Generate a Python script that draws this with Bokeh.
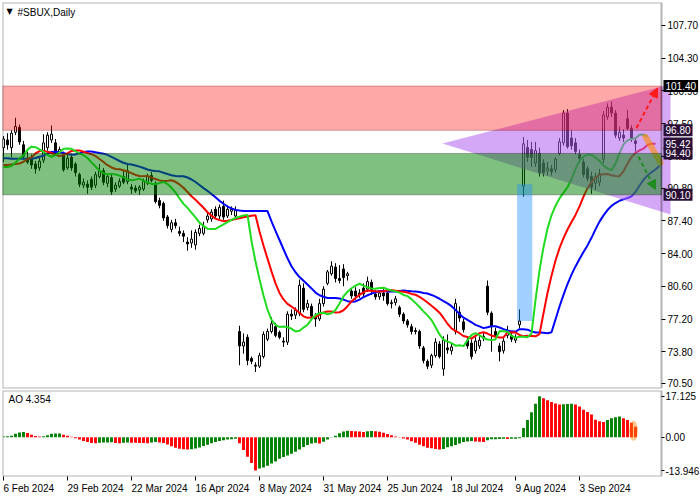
from bokeh.plotting import figure
from bokeh.layouts import column
from bokeh.models import (Range1d, FixedTicker, NumeralTickFormatter, BoxAnnotation,
                          Arrow, NormalHead, Label, ColumnDataSource)
from bokeh.embed import file_html
from bokeh.resources import INLINE

FONT = "Liberation Sans"

# ---------------- data ----------------
open_ = [95.0, 95.8, 95.0, 96.6, 97.1, 95.3, 93.9, 94.0, 93.3, 92.9,
         93.7, 95.0, 95.8, 95.5, 94.6, 94.2, 92.9, 94.0, 93.3, 92.2,
         91.1, 91.2, 91.7, 91.1, 92.0, 92.6, 91.3, 91.9, 90.7, 91.0,
         92.0, 91.5, 90.9, 90.8, 90.6, 90.7, 91.3, 92.1, 91.3, 89.5,
         89.2, 87.8, 86.5, 87.2, 86.3, 86.1, 85.2, 85.1, 84.9, 86.1,
         86.1, 87.5, 87.6, 88.6, 87.9, 88.9, 87.9, 88.4, 87.9, 75.9,
         74.4, 75.3, 73.1, 72.4, 72.3, 73.3, 75.1, 75.9, 76.4, 75.8,
         74.9, 74.8, 77.7, 77.6, 77.8, 80.4, 78.4, 78.5, 77.5, 77.2,
         78.8, 80.9, 81.9, 82.6, 81.4, 82.4, 81.7, 80.1, 80.1, 79.9,
         80.4, 80.3, 81.0, 79.8, 79.5, 79.9, 79.9, 78.8, 78.9, 78.4,
         77.7, 77.0, 76.4, 76.0, 75.9, 74.2, 72.8, 72.4, 73.4, 74.6,
         72.0, 74.2, 73.9, 75.9, 77.9, 76.9, 75.0, 74.7, 73.9, 74.4,
         75.2, 80.6, 77.8, 75.9, 74.4, 73.9, 75.5, 75.5, 75.0, 76.6,
         91.0, 95.0, 94.8, 93.4, 94.4, 93.4, 92.6, 92.8, 92.7, 94.4,
         95.5, 98.6, 96.0, 95.5, 94.3, 93.5, 92.8, 92.0, 91.3, 91.4,
         93.8, 98.2, 99.2, 98.6, 96.0, 96.3, 98.0, 97.0, 95.7]
high = [96.2, 96.5, 96.8, 98.1, 97.4, 95.7, 94.6, 94.3, 93.6, 94.0,
        96.4, 96.6, 97.3, 95.9, 95.1, 94.6, 94.4, 94.4, 93.5, 92.4,
        91.8, 91.6, 92.0, 92.5, 93.3, 92.9, 92.3, 92.2, 91.4, 91.8,
        92.6, 93.2, 91.2, 91.1, 91.1, 91.8, 92.3, 92.5, 91.5, 89.8,
        89.4, 88.0, 87.5, 87.6, 86.8, 86.4, 85.7, 86.4, 86.5, 87.0,
        87.3, 88.3, 88.6, 88.9, 89.1, 89.5, 89.0, 88.9, 88.9, 76.5,
        75.7, 75.6, 73.3, 72.7, 73.7, 75.9, 76.2, 77.4, 76.8, 76.0,
        75.3, 78.0, 78.2, 78.4, 81.3, 80.9, 79.2, 78.8, 77.8, 79.3,
        80.6, 82.3, 83.2, 83.0, 82.8, 82.9, 82.1, 80.4, 80.5, 80.3,
        80.9, 81.6, 81.3, 80.2, 80.1, 80.3, 80.2, 79.2, 79.6, 78.6,
        77.9, 77.2, 76.7, 76.3, 76.1, 74.4, 73.0, 73.6, 75.2, 74.9,
        75.4, 75.6, 74.6, 79.3, 78.5, 77.2, 75.3, 75.1, 75.3, 75.4,
        75.8, 81.2, 78.0, 76.3, 74.7, 75.2, 76.5, 75.8, 75.6, 78.2,
        96.1, 95.8, 95.6, 95.6, 95.0, 93.8, 93.5, 93.2, 94.0, 96.0,
        98.9, 99.0, 96.8, 96.0, 94.8, 93.8, 93.1, 92.5, 92.4, 92.8,
        98.8, 99.6, 99.8, 98.9, 97.2, 96.9, 98.9, 97.3, 96.0]
low = [93.5, 94.8, 94.0, 96.3, 95.3, 93.9, 93.3, 92.8, 92.3, 92.6,
       93.4, 94.7, 95.5, 94.2, 94.4, 92.5, 92.7, 92.6, 92.0, 90.9,
       90.8, 90.2, 90.6, 90.8, 91.8, 91.1, 90.9, 90.1, 90.4, 90.8,
       91.2, 91.2, 90.2, 90.3, 90.1, 90.5, 91.1, 91.4, 89.2, 88.7,
       87.4, 86.6, 86.2, 86.6, 85.8, 85.2, 84.3, 84.6, 84.4, 85.8,
       85.9, 87.2, 87.3, 87.6, 87.6, 87.5, 87.7, 88.0, 87.7, 72.4,
       73.6, 72.4, 72.5, 71.7, 72.1, 73.1, 74.9, 75.7, 75.3, 75.1,
       74.3, 74.5, 77.1, 77.2, 77.5, 77.9, 78.1, 77.1, 76.4, 77.0,
       78.5, 80.7, 81.7, 81.0, 80.9, 80.6, 81.2, 79.3, 79.2, 79.4,
       79.5, 80.0, 79.7, 79.2, 79.2, 79.1, 78.6, 78.3, 78.6, 77.4,
       76.7, 76.3, 75.6, 75.6, 74.1, 72.6, 72.0, 72.1, 73.2, 73.1,
       71.3, 73.6, 73.5, 75.6, 76.9, 75.8, 74.1, 73.0, 73.6, 74.1,
       74.9, 77.6, 73.8, 75.1, 72.8, 73.6, 75.2, 74.8, 74.7, 76.2,
       89.9, 93.5, 93.0, 93.0, 92.0, 92.0, 92.1, 92.1, 92.4, 94.2,
       95.2, 94.9, 94.8, 94.3, 93.4, 91.9, 91.5, 90.2, 90.6, 91.0,
       93.4, 97.9, 98.2, 96.0, 95.7, 95.6, 96.8, 95.6, 94.6]
close = [95.9, 95.3, 96.5, 97.2, 95.6, 94.1, 93.5, 93.2, 92.8, 93.6,
         95.5, 96.3, 96.4, 94.5, 94.8, 92.7, 93.9, 92.9, 92.4, 91.2,
         91.4, 90.9, 90.9, 92.2, 92.6, 91.4, 92.0, 90.4, 91.1, 91.5,
         91.4, 92.6, 90.7, 90.5, 90.9, 91.5, 92.0, 91.6, 89.4, 89.0,
         87.7, 86.9, 87.2, 86.9, 86.1, 85.8, 85.0, 85.5, 86.2, 86.6,
         86.8, 87.9, 88.3, 87.9, 88.8, 87.8, 88.6, 88.6, 88.5, 74.4,
         74.8, 72.9, 72.8, 72.3, 73.4, 75.6, 75.9, 76.7, 75.5, 75.3,
         74.8, 77.7, 77.5, 78.1, 80.7, 78.2, 78.8, 77.5, 77.2, 78.8,
         80.3, 82.1, 82.7, 81.4, 81.2, 81.5, 81.9, 79.6, 79.6, 79.7,
         79.8, 81.1, 80.1, 79.5, 79.9, 79.6, 78.8, 78.9, 79.3, 77.7,
         77.0, 76.6, 75.9, 75.9, 74.4, 72.9, 72.3, 73.4, 74.8, 73.3,
         75.0, 74.0, 74.3, 78.8, 77.3, 76.1, 74.4, 73.3, 74.9, 75.0,
         75.4, 77.9, 76.5, 75.5, 73.8, 74.9, 75.8, 75.1, 75.3, 77.0,
         95.4, 94.0, 94.0, 94.7, 92.4, 92.4, 92.9, 92.5, 93.8, 95.6,
         98.6, 95.1, 95.2, 94.6, 93.9, 92.2, 91.8, 90.9, 92.0, 92.3,
         98.4, 99.2, 98.6, 96.3, 96.6, 96.0, 97.0, 95.9, 95.42]

ao = [0.3, 0.4, 0.6, 1.4, 2.0, 2.2, 1.8, 1.0, 0.5, 0.3,
      0.4, 0.8, 1.4, 1.5, 1.6, 1.0, 0.6, 0.2, -0.4, -1.0,
      -1.6, -2.0, -2.4, -2.5, -2.3, -2.25, -2.2, -2.15, -2.4, -2.5,
      -2.3, -2.2, -2.3, -2.35, -2.4, -2.45, -2.5, -2.2, -2.0, -2.2,
      -2.4, -3.0, -3.8, -4.4, -4.8, -5.0, -5.1, -5.0, -4.7, -4.3,
      -3.7, -3.1, -2.5, -2.0, -1.6, -1.3, -1.0, -0.8, -0.6, -2.5,
      -5.3, -8.2, -10.8, -13.946, -13.1, -12.6, -11.9, -11.0, -10.1, -9.0,
      -8.3, -7.6, -6.9, -6.1, -5.1, -4.1, -3.3, -2.6, -2.3, -2.6,
      -1.9, -1.0, -0.1, 0.6, 1.7, 2.4, 2.7, 2.6, 2.5, 2.4,
      2.2, 2.5, 2.6, 2.5, 2.3, 1.9, 1.3, 0.8, 0.3, -0.1,
      -0.5, -1.0, -1.7, -2.3, -3.1, -3.8, -4.4, -4.6, -4.9, -5.1,
      -4.9, -4.2, -3.8, -3.2, -2.6, -2.0, -1.8, -1.6, -1.8, -1.9,
      -2.0, -1.3, -0.9, -0.8, -0.7, -0.6, -0.7, -0.65, -0.6, -0.4,
      3.8, 7.2, 10.4, 14.0, 17.125, 16.3, 15.4, 14.7, 14.1, 13.7,
      13.8, 13.9, 14.0, 13.7, 12.8, 11.5, 10.5, 9.5, 7.3, 6.7,
      6.4, 7.2, 7.9, 8.3, 8.6, 7.9, 7.2, 6.0, 4.354]

date_tick_bars = [0, 16, 32, 48, 64, 80, 96, 112, 128, 144]
date_tick_labels = ["6 Feb 2024", "29 Feb 2024", "22 Mar 2024", "16 Apr 2024",
                    "8 May 2024", "31 May 2024", "25 Jun 2024", "18 Jul 2024",
                    "9 Aug 2024", "3 Sep 2024"]
price_ticks = [107.70, 104.30, 100.90, 97.50, 94.10, 90.80, 87.40, 84.00,
               80.60, 77.20, 73.80, 70.50]

# horizontal levels drawn on the chart
red_zone = [96.80, 101.40]
green_zone = [90.10, 94.40]
marked_levels = [101.40, 96.80, 94.40, 90.10]

# alligator: values shown before the first bar's own average, and seeds
jaw_head = [93.9, 93.9, 93.85, 93.85, 93.85, 93.85, 93.85, 93.85]
teeth_head = [93.2, 93.2, 93.25, 93.3, 93.35]
lips_head = [93.0, 93.0, 93.1]
jaw_seed, teeth_seed, lips_seed = 93.85, 93.35, 93.1

# ---------------- derived series ----------------
n = len(close)
idx = list(range(n))
median = [(h + l) / 2 for h, l in zip(high, low)]


def smma(vals, period, seed):
    out, s = [], seed
    for v in vals:
        s = (s * (period - 1) + v) / period
        out.append(s)
    return out


FW = 698
X0, XR = -0.25, 164.5            # frame left, price-area right edge
XF = X0 + FW / 4.0               # frame right (4 px per bar)
Y0, Y1 = 69.98, 110.08
AO0, AO1 = -16.4, 19.5


def clip_line(vals):
    xs = [i for i in range(len(vals)) if i <= XR]
    return xs, vals[:len(xs)]


jaw = jaw_head + smma(median, 13, jaw_seed)
teeth = teeth_head + smma(median, 8, teeth_seed)
lips = lips_head + smma(median, 5, lips_seed)

ao_colors = ["#008000" if (i == 0 or ao[i] > ao[i - 1]) else "#ff0000" for i in idx]


def style_axis(ax):
    ax.major_label_text_font = FONT
    ax.major_label_text_font_size = "10px"
    ax.major_label_text_color = "black"
    ax.major_tick_out = 4
    ax.major_tick_in = 0
    ax.major_tick_line_color = "black"
    ax.minor_tick_line_color = None
    ax.axis_line_color = None


# ---------------- main price chart ----------------
p = figure(frame_width=FW, frame_height=386, x_range=Range1d(X0, XF),
           y_range=Range1d(Y0, Y1), x_axis_location=None, y_axis_location="right",
           output_backend="svg", toolbar_location=None,
           min_border_left=2, min_border_top=2, min_border_bottom=1, min_border_right=0)
p.outline_line_color = None
p.grid.visible = False
p.background_fill_color = "white"
p.border_fill_color = "white"

src = ColumnDataSource(dict(
    x=idx, h=high, l=low,
    top=[max(o, c) for o, c in zip(open_, close)],
    bottom=[min(o, c) for o, c in zip(open_, close)],
    fill=["white" if c >= o else "black" for o, c in zip(open_, close)],
))
p.segment(x0="x", y0="h", x1="x", y1="l", source=src, line_color="black", line_width=1)
p.vbar(x="x", width=0.5, top="top", bottom="bottom", fill_color="fill",
       line_color="black", line_width=1, source=src)

for vals, col in [(jaw, "#0000ff"), (teeth, "#ff0000"), (lips, "#1fdc1f")]:
    xs, ys = clip_line(vals)
    p.line(xs, ys, line_color=col, line_width=2)

# purple forecast triangle (reaches into the price-scale strip)
p.patch([109.75, 166.75, 166.75], [close[-1], 101.6, 88.06],
        fill_color="#b060f0", fill_alpha=0.55, line_color=None)
# orange highlighter stroke
p.add_layout(Arrow(end=None, x_start=160.5, y_start=96.12, x_end=164.25, y_end=93.44,
                   line_color="#ff8c00", line_alpha=0.6, line_width=6, line_cap="round"))
# zones
p.add_layout(BoxAnnotation(left=X0, right=XR, bottom=green_zone[0], top=green_zone[1],
                           fill_color="#008000", fill_alpha=0.5, line_color="black",
                           line_width=1))
p.add_layout(BoxAnnotation(left=X0, right=XR, bottom=red_zone[0], top=red_zone[1],
                           fill_color="#ff0000", fill_alpha=0.34, line_color="#7a0000",
                           line_width=1))
# gap box
p.add_layout(BoxAnnotation(left=128.4, right=132.2, bottom=77.0, top=91.2,
                           fill_color="#1e90ff", fill_alpha=0.42, line_color=None))
# arrows
p.add_layout(Arrow(end=NormalHead(size=9, fill_color="#ff1a1a", line_color="#ff1a1a"),
                   x_start=158.25, y_start=97.05, x_end=163.5, y_end=101.19,
                   line_color="#ff1a1a", line_width=2, line_dash="4 3"))
p.add_layout(Arrow(end=NormalHead(size=9, fill_color="#1e8c1e", line_color="#1e8c1e"),
                   x_start=158.75, y_start=94.06, x_end=163.0, y_end=90.65,
                   line_color="#1e8c1e", line_width=2, line_dash="4 3"))
# frame border of the price area
p.add_layout(BoxAnnotation(left=X0, right=XR, bottom=Y0, top=Y1, fill_alpha=0,
                           fill_color=None, line_color="black", line_width=2))

p.yaxis.ticker = FixedTicker(ticks=price_ticks)
p.yaxis.formatter = NumeralTickFormatter(format="0.00")
p.yaxis.fixed_location = XR
style_axis(p.yaxis[0])
p.yaxis.major_label_standoff = 2

# price boxes on the right scale
for lv in marked_levels + [close[-1]]:
    bg = "black" if lv == marked_levels[0] else "#2a1036"
    p.add_layout(Label(x=XR, y=lv, x_offset=2, text=f"{lv:.2f}", text_font=FONT,
                       text_font_size="10px", text_color="white", text_align="left",
                       text_baseline="middle", background_fill_color=bg,
                       background_fill_alpha=1.0, padding=2))

p.add_layout(Label(x=X0, y=Y1, x_offset=4, y_offset=-9, text="\u25bc", text_font="DejaVu Sans",
                   text_font_size="8px", text_color="black", text_baseline="middle"))
p.add_layout(Label(x=X0, y=Y1, x_offset=15, y_offset=-10, text="#SBUX,Daily", text_font=FONT,
                   text_font_size="10px", text_color="black", text_baseline="middle"))

# ---------------- AO panel ----------------
q = figure(frame_width=FW, frame_height=86, x_range=p.x_range, y_range=Range1d(AO0, AO1),
           y_axis_location="right", output_backend="svg", toolbar_location=None,
           min_border_left=2, min_border_top=1, min_border_bottom=2, min_border_right=0)
q.outline_line_color = None
q.grid.visible = False
q.background_fill_color = "white"
q.border_fill_color = "white"
q.vbar(x=idx, top=ao, bottom=0, width=0.72, fill_color=ao_colors, line_color=None)
q.ellipse(x=157.5, y=2.7, width=2.2, height=8.6, fill_color="#ff8c00", fill_alpha=0.45,
          line_color=None)
q.add_layout(BoxAnnotation(left=X0, right=XR, bottom=AO0, top=AO1, fill_alpha=0,
                           fill_color=None, line_color="black", line_width=2))

ao_ticks = [max(ao), 0.0, min(ao)]
q.yaxis.ticker = FixedTicker(ticks=ao_ticks)
q.yaxis.major_label_overrides = {max(ao): f"{max(ao):.3f}", 0.0: "0.00",
                                 min(ao): f"{min(ao):.3f}"}
q.yaxis.fixed_location = XR
q.xaxis.ticker = FixedTicker(ticks=date_tick_bars)
q.xaxis.major_label_overrides = {b: s for b, s in zip(date_tick_bars, date_tick_labels)}
style_axis(q.xaxis[0])
style_axis(q.yaxis[0])
q.yaxis.major_tick_out = 3
q.yaxis.major_label_standoff = 1
q.xaxis.major_label_orientation = -0.0001
q.xaxis.major_label_standoff = 8

q.add_layout(Label(x=X0, y=AO1, x_offset=6, y_offset=-9, text=f"AO {ao[-1]:.3f}", text_font=FONT,
                   text_font_size="10px", text_color="black", text_baseline="middle"))

layout = column(p, q, spacing=0)
open("out.html", "w").write(file_html(layout, INLINE))
